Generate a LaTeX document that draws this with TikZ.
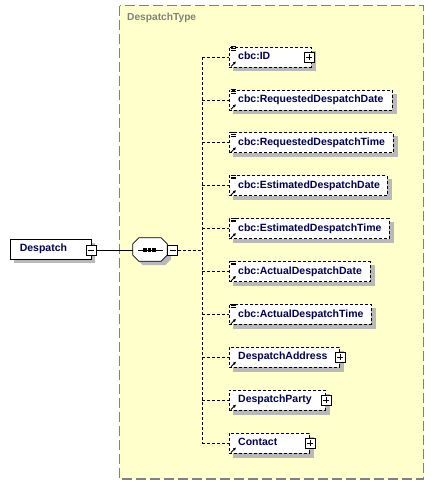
\documentclass[tikz,border=0pt]{standalone}
\usepackage{fontspec}
\setmainfont{Liberation Sans}
\usetikzlibrary{arrows.meta,calc}
\pgfdeclarelayer{background}
\pgfsetlayers{background,main}
\definecolor{typefill}{RGB}{255,255,204}
\definecolor{typeborder}{RGB}{128,128,128}
\definecolor{shadowgray}{RGB}{185,185,185}
\definecolor{navy}{RGB}{0,0,80}
\tikzset{
  elem/.style={draw, fill=white, dash pattern=on 3pt off 2pt, line width=0.8pt, minimum height=20pt, inner sep=0pt},
  etext/.style={anchor=west, inner sep=0pt, text height=7.5pt, text depth=2.2pt, font=\fontsize{10.5}{12}\selectfont\bfseries, text=navy},
  pmbox/.style={draw, fill=white, minimum size=10pt, inner sep=0pt, line width=0.6pt,
    path picture={\draw[line width=0.6pt] ([xshift=2pt]path picture bounding box.west) -- ([xshift=-2pt]path picture bounding box.east);}},
  conn/.style={dash pattern=on 3pt off 2pt, line width=0.8pt},
  solidconn/.style={line width=0.8pt},
  shadowfill/.style={fill=shadowgray, draw=none},
}
\newcommand\plussign[1]{\draw[line width=0.6pt] ([yshift=3pt]#1.center) -- ([yshift=-3pt]#1.center);}
\newcommand\docicon[1]{%
  \foreach \dy in {0,1.7,3.4}{\draw[line width=0.6pt] ($(#1.north west)+(2,\dy)$) -- ++(5,0);}}
\newcommand\refarrow[1]{%
  \draw[line width=0.9pt, -{Latex[length=3pt,width=3.2pt]}] ($(#1.south west)+(2,-1)$) -- ++(5,-5);}
\newcommand\octpath[2]{($(seq.north west)+(#1+6,#2)$) -- ($(seq.north east)+(#1-6,#2)$) -- ($(seq.north east)+(#1,#2+6)$) -- ($(seq.south east)+(#1,#2-6)$) -- ($(seq.south east)+(#1-6,#2)$) -- ($(seq.south west)+(#1+6,#2)$) -- ($(seq.south west)+(#1,#2-6)$) -- ($(seq.north west)+(#1,#2+6)$) -- cycle}
\begin{document}
\begin{tikzpicture}[x=1pt,y=-1pt]
\useasboundingbox (0,0) rectangle (435,485);
\node[anchor=base west, inner sep=0pt, font=\fontsize{10.2}{12}\selectfont\bfseries, text=typeborder] (title) at (127,20.5) {DespatchType};
\node[draw, fill=white, line width=0.8pt, minimum width=81pt, minimum height=20pt, inner sep=0pt] (desp) at (50.5,249) {};
\node[etext] (desptext) at ([xshift=10pt]desp.west) {Despatch};
\node[pmbox] (despm) at (91,250) {};
\node[minimum width=34pt, minimum height=23pt, inner sep=0pt] (seq) at (150,249.5) {};
\path[shadowfill] \octpath{4}{4};
\draw[fill=white, line width=0.8pt] \octpath{0}{0};
\draw[line width=0.8pt] (137.5,250) -- (162.5,250);
\foreach \sx in {145,149.5,154}{\fill (\sx-1.6,248.4) rectangle (\sx+1.6,251.6);}
\node[pmbox, anchor=west] (seqm) at (seq.east |- 0,250) {};
\coordinate (bus) at (202,250);
\draw[solidconn] (despm.east) -- (seq.west |- despm.east);
\draw[conn] (seqm.east) -- (bus);
\node[elem, minimum width=82pt, anchor=west] (id) at (229,57) {};
\node[etext] at ([xshift=9pt]id.west) {cbc:ID};
\node[elem, minimum width=163pt, anchor=west] (rdd) at (229,99.9) {};
\node[etext] at ([xshift=9pt]rdd.west) {cbc:RequestedDespatchDate};
\node[elem, minimum width=164pt, anchor=west] (rdt) at (229,142.8) {};
\node[etext] at ([xshift=9pt]rdt.west) {cbc:RequestedDespatchTime};
\node[elem, minimum width=158pt, anchor=west] (edd) at (229,185.7) {};
\node[etext] at ([xshift=9pt]edd.west) {cbc:EstimatedDespatchDate};
\node[elem, minimum width=160pt, anchor=west] (edt) at (229,228.6) {};
\node[etext] at ([xshift=9pt]edt.west) {cbc:EstimatedDespatchTime};
\node[elem, minimum width=141pt, anchor=west] (acd) at (229,271.5) {};
\node[etext] at ([xshift=9pt]acd.west) {cbc:ActualDespatchDate};
\node[elem, minimum width=142pt, anchor=west] (act) at (229,314.4) {};
\node[etext] at ([xshift=9pt]act.west) {cbc:ActualDespatchTime};
\node[elem, minimum width=110pt, anchor=west] (da) at (229,357.3) {};
\node[etext] at ([xshift=9pt]da.west) {DespatchAddress};
\node[elem, minimum width=96pt, anchor=west] (dp) at (229,400.2) {};
\node[etext] at ([xshift=9pt]dp.west) {DespatchParty};
\node[elem, minimum width=80pt, anchor=west] (ct) at (229,443.1) {};
\node[etext] at ([xshift=9pt]ct.west) {Contact};
\node[pmbox] (idp) at ([xshift=-3pt]id.east) {}; \plussign{idp}
\node[pmbox] (dap) at (da.east) {}; \plussign{dap}
\node[pmbox] (dpp) at (dp.east) {}; \plussign{dpp}
\node[pmbox] (ctp) at (ct.east) {}; \plussign{ctp}
\foreach \n in {id,rdd,rdt,edd,edt,acd,act}{\docicon{\n}}
\foreach \n in {id,rdd,rdt,edd,edt,acd,act,da,dp,ct}{\refarrow{\n}}
\draw[conn] (id.west -| bus) -- (ct.west -| bus);
\foreach \n in {id,rdd,rdt,edd,edt,acd,act,da,dp,ct}{\draw[conn] (\n.west -| bus) -- (\n.west);}
\begin{pgfonlayer}{background}
\draw[fill=typefill, draw=typeborder, line width=1.4pt, dash pattern=on 10pt off 4pt] (119.5,5.5) rectangle (423.5,479);
\foreach \n in {desp,id,rdd,rdt,edd,edt,acd,act,da,dp,ct}{\path[shadowfill] ($(\n.south west)+(4,4)$) rectangle ($(\n.north east)+(4,4)$);}
\end{pgfonlayer}
\end{tikzpicture}
\end{document}
